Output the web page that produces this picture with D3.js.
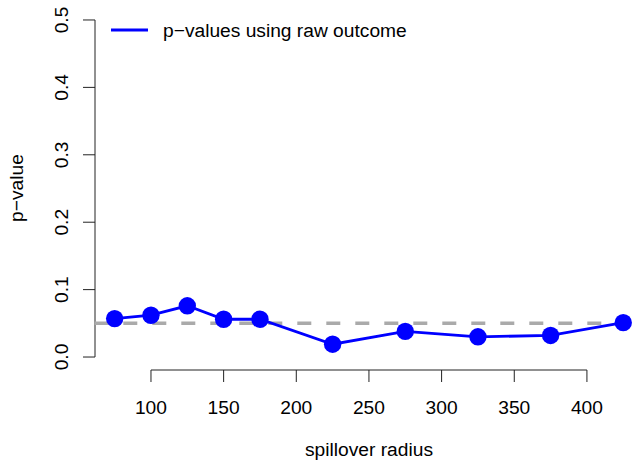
<!DOCTYPE html>
<html>
<head>
<meta charset="utf-8">
<script src="https://cdn.jsdelivr.net/npm/d3@7"></script>
<style>
  body { margin: 0; background: #fff; }
  text { font-family: "Liberation Sans", Arial, sans-serif; fill: #000; }
</style>
</head>
<body>
<div id="chart"></div>
<script>
// spillover radius vs p-value
var radius = [75, 100, 125, 150, 175, 225, 275, 325, 375, 425]
var pvalues = [0.057, 0.062, 0.076, 0.056, 0.056, 0.019, 0.038, 0.030, 0.032, 0.051]
var xTicks = [100, 150, 200, 250, 300, 350, 400]
var yTicks = [0.0, 0.1, 0.2, 0.3, 0.4, 0.5]
var threshold = 0.05
var legendLabel = "p\u2212values using raw outcome"

var width = 641, height = 463
var fontSize = "19.2px"

var svg = d3.select("#chart")
	.append("svg")
	.attr("width", width)
	.attr("height", height)

// R style 4% padding on both ranges
var x = d3.scaleLinear().domain([61, 439]).range([94.3, 643.6])
var y = d3.scaleLinear().domain([-0.02, 0.52]).range([370.5, 6.5])

svg.append("defs").append("clipPath").attr("id", "plotclip")
	.append("rect")
	.attr("x", 94.3).attr("y", 6.5)
	.attr("width", 643.6 - 94.3).attr("height", 364)

// x axis
var xAxis = svg.append("g").attr("transform", "translate(0,370)")
xAxis.append("line")
	.attr("x1", x(xTicks[0])).attr("x2", x(xTicks[xTicks.length - 1]))
	.attr("stroke", "#222")
xAxis.selectAll(".xt").data(xTicks).enter()
	.append("line")
	.attr("x1", function(d){ return x(d) }).attr("x2", function(d){ return x(d) })
	.attr("y1", 0).attr("y2", 12)
	.attr("stroke", "#222")
xAxis.selectAll("text").data(xTicks).enter()
	.append("text")
	.attr("x", function(d){ return x(d) })
	.attr("y", 43.5)
	.attr("text-anchor", "middle")
	.style("font-size", fontSize)
	.text(function(d){ return d })

// y axis
var yAxis = svg.append("g").attr("transform", "translate(95,0)")
yAxis.append("line")
	.attr("y1", y(yTicks[0])).attr("y2", y(yTicks[yTicks.length - 1]))
	.attr("stroke", "#222")
yAxis.selectAll(".yt").data(yTicks).enter()
	.append("line")
	.attr("y1", function(d){ return y(d) }).attr("y2", function(d){ return y(d) })
	.attr("x1", 0).attr("x2", -12)
	.attr("stroke", "#222")
yAxis.selectAll("text").data(yTicks).enter()
	.append("text")
	.attr("transform", function(d){ return "translate(-27," + y(d) + ") rotate(-90)" })
	.attr("text-anchor", "middle")
	.style("font-size", fontSize)
	.text(function(d){ return d.toFixed(1) })

// axis titles
svg.append("text")
	.attr("x", 369).attr("y", 456)
	.attr("text-anchor", "middle")
	.style("font-size", fontSize)
	.text("spillover radius")
svg.append("text")
	.attr("transform", "translate(23,188) rotate(-90)")
	.attr("text-anchor", "middle")
	.style("font-size", fontSize)
	.text("p\u2212value")

// threshold line
svg.append("line")
	.attr("clip-path", "url(#plotclip)")
	.attr("x1", x(61)).attr("x2", x(439))
	.attr("y1", y(threshold)).attr("y2", y(threshold))
	.attr("stroke", "#aaaaaa")
	.attr("stroke-width", 3.5)
	.attr("stroke-dasharray", "14,15")

// series
var pts = radius.map(function(r, i){ return [r, pvalues[i]] })
svg.append("path")
	.datum(pts)
	.attr("fill", "none")
	.attr("stroke", "#0000ff")
	.attr("stroke-width", 2.8)
	.attr("d", d3.line().x(function(d){ return x(d[0]) }).y(function(d){ return y(d[1]) }))
svg.selectAll(".pt").data(pts).enter()
	.append("circle")
	.attr("cx", function(d){ return x(d[0]) })
	.attr("cy", function(d){ return y(d[1]) })
	.attr("r", 8.7)
	.attr("fill", "#0000ff")

// legend
svg.append("line")
	.attr("x1", 111).attr("x2", 148)
	.attr("y1", 30).attr("y2", 30)
	.attr("stroke", "#0000ff")
	.attr("stroke-width", 2.8)
svg.append("text")
	.attr("x", 163).attr("y", 37)
	.style("font-size", fontSize)
	.text(legendLabel)
</script>
</body>
</html>
